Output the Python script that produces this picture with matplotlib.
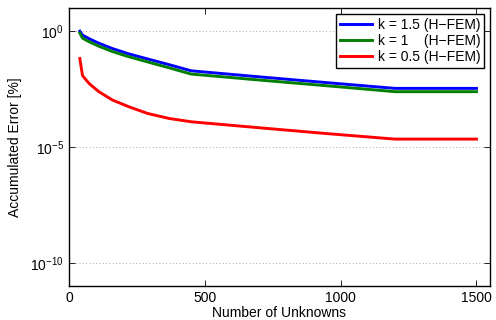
import matplotlib
matplotlib.use("Agg")
from matplotlib import pyplot as plt
from matplotlib import ticker as mticker

# Number of unknowns
unknowns = [40, 50, 75, 110, 160, 220, 290, 370, 450, 700, 950, 1200, 1500]

# Accumulated error [%] per k
err_k15 = [1.0, 0.676, 0.468, 0.302, 0.178, 0.105, 0.063, 0.0355, 0.0195,
           0.0107, 0.0060, 0.0034, 0.0034]
err_k1 = [0.83, 0.50, 0.347, 0.224, 0.132, 0.079, 0.047, 0.026, 0.0141,
          0.0078, 0.0044, 0.00245, 0.00245]
err_k05 = [0.066, 0.012, 0.0054, 0.00245, 0.00107, 5.5e-4, 2.8e-4, 1.7e-4,
           1.23e-4, 6.8e-5, 3.8e-5, 2.2e-5, 2.2e-5]

labels = ["k = 1.5 (H\u2212FEM)", "k = 1    (H\u2212FEM)", "k = 0.5 (H\u2212FEM)"]
colors = ["#0000ff", "#007f00", "#ff0000"]

plt.rcParams["font.family"] = ["Liberation Sans", "DejaVu Sans"]
plt.rcParams["font.size"] = 10
plt.rcParams["mathtext.fontset"] = "custom"
plt.rcParams["mathtext.rm"] = "Liberation Sans"
plt.rcParams["mathtext.it"] = "Liberation Sans:italic"

fig = plt.figure(figsize=(4.96, 3.2), dpi=100)
ax = fig.add_axes([0.139, 0.106, 0.849, 0.869])

for ys, lab, col in zip([err_k15, err_k1, err_k05], labels, colors):
    ax.semilogy(unknowns, ys, color=col, lw=2.1, label=lab)

ax.set_xlim(0, 1550)
ax.set_ylim(1e-11, 1e1)
ax.set_xticks([0, 500, 1000, 1500])
ax.yaxis.set_major_locator(mticker.FixedLocator([1e-10, 1e-5, 1e0]))
ax.yaxis.set_minor_locator(mticker.NullLocator())
ax.tick_params(which="both", direction="in", top=True, right=True,
               length=4, width=0.6)
ax.grid(True, axis="y", linestyle=(0, (1, 3)), color="#888888", linewidth=0.6)
for s in ax.spines.values():
    s.set_linewidth(1.0)

ax.set_xlabel("Number of Unknowns", labelpad=1)
ax.set_ylabel("Accumulated Error [%]", labelpad=6)

leg = ax.legend(loc="upper right", fancybox=False, framealpha=1,
                edgecolor="black", borderpad=0.3, labelspacing=0.15,
                handlelength=2.3, handletextpad=0.4, borderaxespad=0.4)
leg.get_frame().set_linewidth(1.0)

fig.savefig("out.png", dpi=100)
